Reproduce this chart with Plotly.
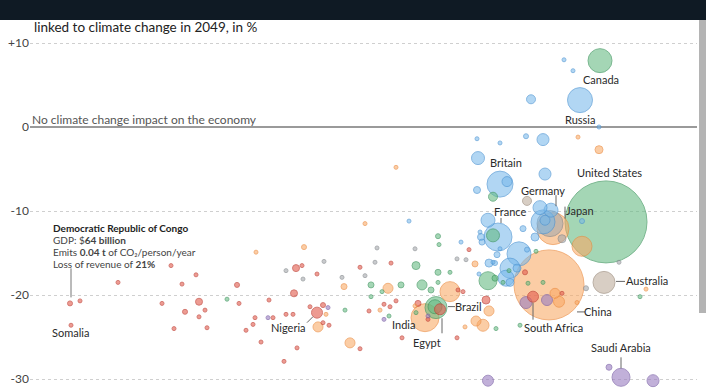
import plotly.graph_objects as go

# ---------------- data (x: unlabeled horizontal scale, y: % change in GDP, size: bubble diameter) -------------
blue_x = [580, 478, 498, 551, 564, 573, 531, 599, 477, 500, 526, 543, 500, 507, 545, 477, 540, 543, 545, 582,
          409, 488, 480, 481, 482, 461, 523, 535, 519, 510, 506, 517, 527, 497, 489, 495, 479, 500, 510, 493]
blue_y = [3.2, -3.7, -13.1, -9.9, 8.0, 6.7, 3.3, 0.0, -1.4, -1.9, -1.1, -1.5, -6.8, -6.5, -5.6, -7.5, -9.6, -11.3,
          -11.1, -11.2, -11.2, -11.1, -12.5, -13.1, -13.7, -13.7, -12.1, -13.1, -15.1, -16.8, -18.0, -16.8, -14.6,
          -15.2, -16.2, -16.2, -17.5, -14.5, -18.5, -16.1]
blue_size = [25, 13, 28, 14, 4, 4, 9, 4, 4, 4, 5, 12, 26, 10, 12, 7, 14, 24, 10, 5,
             4, 14, 4, 7, 6, 4, 6, 8, 24, 20, 16, 8, 5, 6, 8, 5, 4, 4, 8, 4]

green_x = [600, 606, 436, 435, 493, 493, 438, 439, 536, 416, 450, 438, 438, 488, 495, 503, 509, 528, 543, 640,
           520, 227, 371, 401, 422, 431, 382, 371, 345, 416, 389, 496]
green_y = [7.9, -11.3, -21.5, -21.4, -8.3, -12.9, -13.0, -14.0, -14.8, -16.5, -17.3, -17.3, -18.5, -18.3, -18.0,
           -18.5, -17.1, -18.6, -18.5, -20.2, -23.6, -20.5, -18.8, -18.8, -18.8, -19.4, -19.6, -20.2, -21.8, -22.1,
           -22.5, -24.0]
green_size = [24, 82, 22, 14, 9, 13, 5, 4, 4, 8, 4, 6, 4, 18, 6, 4, 4, 4, 4, 4,
              4, 4, 6, 6, 10, 6, 4, 4, 4, 4, 4, 4]

orange_x = [553, 549, 425, 578, 599, 396, 365, 582, 475, 256, 304, 344, 388, 450, 555, 559, 577, 646, 415, 489,
            476, 483, 465, 380, 326, 318, 350]
orange_y = [-12.1, -18.8, -22.7, -1.2, -2.7, -4.8, -11.5, -14.2, -16.3, -14.9, -14.3, -19.0, -19.2, -19.6, -19.8,
            -20.8, -20.9, -19.3, -21.3, -21.9, -23.1, -23.6, -23.8, -21.8, -22.3, -23.8, -25.7]
orange_size = [32, 70, 28, 4, 8, 4, 4, 20, 6, 4, 5, 6, 10, 20, 10, 11, 4, 4, 4, 10,
               10, 12, 4, 4, 4, 10, 10]

red_x = [533, 440, 317, 70, 71, 469, 391, 360, 486, 418, 384, 390, 369, 396, 428, 457, 402, 360, 458, 463,
         525, 562, 171, 196, 118, 182, 237, 162, 199, 239, 269, 185, 205, 199, 174, 207, 246, 255, 253, 261,
         273, 286, 293, 294, 297, 284, 296, 302, 317, 80, 310, 323, 323, 329]
red_y = [-20.2, -21.7, -22.1, -21.0, -23.6, -14.6, -16.2, -16.7, -20.6, -21.0, -21.1, -21.4, -21.9, -20.7, -22.9,
         -25.1, -25.1, -26.4, -19.4, -19.6, -17.3, -19.8, -16.5, -17.6, -18.5, -18.7, -18.8, -21.0, -20.8, -21.0,
         -20.6, -22.0, -21.8, -22.6, -24.0, -23.9, -24.2, -22.7, -23.5, -25.6, -22.7, -22.3, -22.3, -19.8, -26.3,
         -27.9, -16.8, -16.5, -17.5, -20.7, -21.4, -21.2, -23.3, -23.6]
red_size = [11, 11, 11, 5, 4, 4, 4, 4, 8, 6, 4, 4, 4, 4, 4, 4, 4, 4, 4, 4,
            5, 4, 4, 4, 4, 4, 5, 4, 7, 4, 4, 5, 4, 4, 4, 4, 4, 4, 4, 4,
            4, 4, 4, 7, 4, 4, 7, 4, 4, 4, 4, 5, 4, 4]

purple_x = [621, 328, 268, 384, 428, 526, 547, 609, 488, 653]
purple_y = [-29.8, -21.5, -22.7, -22.9, -22.5, -20.9, -20.6, -28.6, -30.2, -30.2]
purple_size = [18, 4, 4, 4, 4, 12, 11, 6, 11, 12]

tan_x = [604, 527]
tan_y = [-18.5, -8.8]
tan_size = [22, 9]

gray_x = [550, 562, 619, 586, 377, 415, 457, 466, 375, 324, 286, 303, 365, 342]
gray_y = [-11.5, -13.3, -16.1, -19.2, -14.4, -14.5, -15.7, -15.8, -16.1, -16.0, -17.1, -18.1, -17.7, -17.9]
gray_size = [26, 8, 4, 5, 4, 4, 4, 4, 4, 4, 4, 4, 4, 4]

tick_vals = [10, 0, -10, -20, -30]
tick_text = ["+10", "0", "-10", "-20", "-30"]

drc_lines = ["<b>Democratic Republic of Congo</b>", "GDP: $<b>64 billion</b>",
             "Emits <b>0.04 t</b> of CO₂/person/year", "Loss of revenue of <b>21%</b>"]

# ---------------- styling ----------------
groups = {
    "blue": (blue_x, blue_y, blue_size, "rgba(118,182,234,0.8)", "rgba(78,150,212,0.95)"),
    "green": (green_x, green_y, green_size, "rgba(98,186,128,0.82)", "rgba(62,150,94,0.95)"),
    "orange": (orange_x, orange_y, orange_size, "rgba(249,168,100,0.82)", "rgba(236,140,64,0.95)"),
    "red": (red_x, red_y, red_size, "rgba(226,94,80,0.88)", "rgba(192,60,50,0.95)"),
    "purple": (purple_x, purple_y, purple_size, "rgba(156,128,194,0.88)", "rgba(122,96,166,0.95)"),
    "tan": (tan_x, tan_y, tan_size, "rgba(192,176,160,0.88)", "rgba(156,140,124,0.95)"),
    "gray": (gray_x, gray_y, gray_size, "rgba(164,168,172,0.85)", "rgba(134,138,142,0.95)"),
}

pts = []
for g, (xs, ys, ss, fc, lc) in groups.items():
    for x, y, s in zip(xs, ys, ss):
        pts.append((s, x, y, fc, lc))
pts.sort(key=lambda p: -p[0])

fig = go.Figure(go.Scatter(
    x=[p[1] for p in pts], y=[p[2] for p in pts], mode="markers",
    marker=dict(size=[p[0] for p in pts], sizemode="diameter",
                color=[p[3] for p in pts],
                line=dict(color=[p[4] for p in pts], width=1)),
    hoverinfo="skip", showlegend=False))

FONT = "Lato, 'Source Sans Pro', Arial, sans-serif"

# label: (group, index, xshift, yshift, leader line rel pixels or None)
labels = {
    "Canada": ("green", 0, 1, -19, None),
    "Russia": ("blue", 0, 0, -19, None),
    "Britain": ("blue", 1, 28, -4, None),
    "United States": ("green", 1, 3, 49, None),
    "Germany": ("blue", 3, -8, 20, (5, 15, 5, 4)),
    "France": ("blue", 2, 12, 26, (3, 19, 3, 14)),
    "Japan": ("orange", 0, 27, 18, (12, 22, 12, 10)),
    "Australia": ("tan", 0, 43, 2, (12, 1, 21, 1)),
    "China": ("orange", 1, 49, -27, (28, -27, 36, -27)),
    "South Africa": ("red", 0, 20, -31, (0, -6, 0, -23)),
    "Brazil": ("green", 2, 32, 1, (12, 1, 19, 1)),
    "India": ("orange", 2, -22, -7, None),
    "Egypt": ("red", 1, -13, -33, (2, -9, 2, -24)),
    "Nigeria": ("red", 2, -29, -15, (-4, -4, -10, -10)),
    "Somalia": ("red", 4, -1, -7, None),
    "Saudi Arabia": ("purple", 0, 0, 30, (0, 20, 0, 9)),
}

annotations = []
shapes = []
for name, (g, i, xs_, ys_, line) in labels.items():
    gx, gy = groups[g][0][i], groups[g][1][i]
    annotations.append(dict(x=gx, y=gy, xref="x", yref="y", text=name, showarrow=False,
                            xshift=xs_, yshift=ys_, font=dict(family=FONT, size=11, color="#2a2a2a")))
    if line:
        shapes.append(dict(type="line", xref="x", yref="y", xsizemode="pixel", ysizemode="pixel",
                           xanchor=gx, yanchor=gy, x0=line[0], y0=line[1], x1=line[2], y1=line[3],
                           line=dict(color="#666", width=1)))

# DRC callout (one annotation per line for tight line spacing)
drc_x, drc_y = red_x[3], red_y[3]
for k, txt in enumerate(drc_lines):
    annotations.append(dict(
        x=drc_x, y=drc_y, xref="x", yref="y", showarrow=False, xanchor="left", yanchor="middle",
        xshift=-19, yshift=75 - 11.7 * k, align="left", text=txt,
        font=dict(family=FONT, size=10, color="#222" if k == 0 else "#444")))
shapes.append(dict(type="line", xref="x", yref="y", xsizemode="pixel", ysizemode="pixel",
                   xanchor=drc_x, yanchor=drc_y, x0=1, y0=35, x1=1, y1=6,
                   line=dict(color="#777", width=1)))

# zero-line label and subtitle
annotations.append(dict(x=0.0, y=0.0, xref="paper", yref="y", yshift=8, xshift=0, xanchor="left",
                        text="No climate change impact on the economy", showarrow=False,
                        font=dict(family=FONT, size=12, color="#555")))
annotations.append(dict(x=0.0, y=1 - 27 / 388, xref="paper", yref="paper", xanchor="left", yanchor="middle",
                        xshift=2, text="linked to climate change in 2049, in %", showarrow=False,
                        font=dict(family=FONT, size=13.5, color="#222")))

# page chrome: dark header band
PLOT_L, PLOT_R = 30, 697
W = PLOT_R - PLOT_L
PX_PER_UNIT = 8.4
ZERO_PX = 127
shapes.append(dict(type="rect", xref="paper", yref="paper", x0=-PLOT_L / W, x1=(706 - PLOT_L) / W,
                   y0=1 - 20 / 388, y1=1.0, fillcolor="#0f1a24", line=dict(width=0), layer="above"))
shapes.append(dict(type="rect", xref="paper", yref="paper", x0=(699 - PLOT_L) / W, x1=(706 - PLOT_L) / W,
                   y0=1 - 313 / 388, y1=1 - 20 / 388, fillcolor="#b4b4b4", line=dict(width=0), layer="above"))

fig.update_layout(
    width=706, height=388, margin=dict(l=PLOT_L, r=706 - PLOT_R, t=0, b=0),
    paper_bgcolor="white", plot_bgcolor="white",
    xaxis=dict(range=[30, 697], visible=False, fixedrange=True),
    yaxis=dict(range=[(ZERO_PX - 388) / PX_PER_UNIT, ZERO_PX / PX_PER_UNIT], tickvals=tick_vals,
               ticktext=tick_text,
               showgrid=True, gridcolor="#cfcfcf", griddash="dot", gridwidth=1,
               zeroline=True, zerolinecolor="#9a9a9a", zerolinewidth=1.5,
               showline=False, ticks="", automargin=False,
               tickfont=dict(family=FONT, size=12, color="#444")),
    annotations=annotations, shapes=shapes, showlegend=False,
)

post = (
    "document.documentElement.style.overflow='hidden';"
    "document.body.style.margin='0';document.body.style.overflow='hidden';"
    "var sb=document.createElement('div');"
    "sb.style.cssText='position:fixed;right:0;top:20px;width:7px;height:293px;background:#b4b4b4;z-index:10';"
    "document.body.appendChild(sb);"
)
fig.write_html("out.html", config={"displayModeBar": False}, post_script=post)
